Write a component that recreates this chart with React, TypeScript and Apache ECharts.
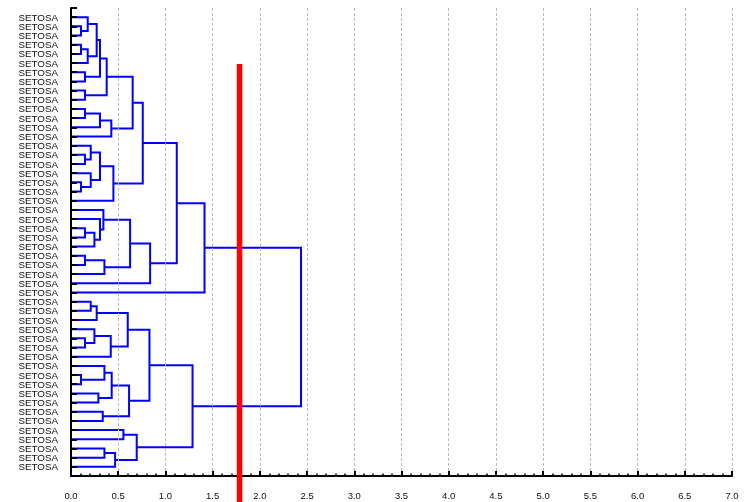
import React, { useEffect, useRef } from "react";
import * as echarts from "echarts";

// Leaf labels, top to bottom (leaf 1 .. leaf 50)
const leafLabels: string[] = [
  "SETOSA", "SETOSA", "SETOSA", "SETOSA", "SETOSA", "SETOSA", "SETOSA", "SETOSA", "SETOSA", "SETOSA",
  "SETOSA", "SETOSA", "SETOSA", "SETOSA", "SETOSA", "SETOSA", "SETOSA", "SETOSA", "SETOSA", "SETOSA",
  "SETOSA", "SETOSA", "SETOSA", "SETOSA", "SETOSA", "SETOSA", "SETOSA", "SETOSA", "SETOSA", "SETOSA",
  "SETOSA", "SETOSA", "SETOSA", "SETOSA", "SETOSA", "SETOSA", "SETOSA", "SETOSA", "SETOSA", "SETOSA",
  "SETOSA", "SETOSA", "SETOSA", "SETOSA", "SETOSA", "SETOSA", "SETOSA", "SETOSA", "SETOSA", "SETOSA",
];

// Merges: [node id, left child, right child, linkage distance]
// children are leaf numbers (1-based) or earlier node ids
const merges: [string, number | string, number | string, number][] = [
  ["a1", 2, 3, 0.106],
  ["a2", 1, "a1", 0.177],
  ["a3", 4, 5, 0.106],
  ["a4", "a3", 6, 0.177],
  ["a5", "a2", "a4", 0.272],
  ["a6", 7, 8, 0.148],
  ["a7", "a5", "a6", 0.307],
  ["a8", 9, 10, 0.148],
  ["a9", "a7", "a8", 0.378],
  ["a10", 11, 12, 0.148],
  ["a11", "a10", 13, 0.307],
  ["a12", "a11", 14, 0.427],
  ["a13", "a9", "a12", 0.653],
  ["b1", 16, 17, 0.148],
  ["b2", 15, "b1", 0.209],
  ["b3", 19, 20, 0.106],
  ["b4", 18, "b3", 0.209],
  ["b5", "b2", "b4", 0.307],
  ["b6", "b5", 21, 0.449],
  ["c1", "a13", "b6", 0.76],
  ["d1", 24, 25, 0.148],
  ["d2", "d1", 26, 0.248],
  ["d3", 23, "d2", 0.307],
  ["d4", 22, "d3", 0.343],
  ["d5", 27, 28, 0.148],
  ["d6", "d5", 29, 0.354],
  ["d7", "d4", "d6", 0.626],
  ["d8", "d7", 30, 0.838],
  ["e1", "c1", "d8", 1.12],
  ["e2", "e1", 31, 1.414],
  ["f1", 32, 33, 0.209],
  ["f2", "f1", 34, 0.272],
  ["f3", 36, 37, 0.148],
  ["f4", 35, "f3", 0.248],
  ["f5", "f4", 38, 0.421],
  ["f6", "f2", "f5", 0.601],
  ["g1", 40, 41, 0.106],
  ["g2", 39, "g1", 0.354],
  ["g3", 42, 43, 0.29],
  ["g4", "g2", "g3", 0.431],
  ["g5", 44, 45, 0.336],
  ["g6", "g4", "g5", 0.615],
  ["h1", "f6", "g6", 0.831],
  ["i1", 46, 47, 0.555],
  ["i2", 48, 49, 0.354],
  ["i3", "i2", 50, 0.467],
  ["i4", "i1", "i3", 0.696],
  ["j1", "h1", "i4", 1.287],
  ["root", "e2", "j1", 2.436],
];

// Cut line
const cutDistance = 1.785;
const cutTopPosition = 6.1;

// X axis ticks
const xMin = 0;
const xMax = 7;
const xInterval = 0.5;

function buildSegments() {
  const pos: Record<string, [number, number]> = {};
  const get = (c: number | string): [number, number] =>
    typeof c === "number" ? [0, c] : pos[c];
  const segs: { coords: number[][] }[] = [];
  for (const [id, l, r, h] of merges) {
    const a = get(l);
    const b = get(r);
    segs.push({ coords: [a, [h, a[1]], [h, b[1]], b] });
    pos[id] = [h, (a[1] + b[1]) / 2];
  }
  return segs;
}

export default function App() {
  const ref = useRef<HTMLDivElement>(null);
  useEffect(() => {
    const chart = echarts.init(ref.current!, null, { renderer: "svg" });
    const font = "'Liberation Sans', Arial, sans-serif";
    chart.setOption({
      animation: false,
      grid: { left: 71, top: 8, right: 15, bottom: 26, containLabel: false },
      xAxis: {
        type: "value",
        position: "bottom",
        min: xMin,
        max: xMax,
        interval: xInterval,
        z: 5,
        axisLine: { show: true, onZero: false, lineStyle: { color: "#000", width: 2 } },
        axisTick: { show: true, inside: true, length: 5, lineStyle: { color: "#000", width: 2 } },
        minorTick: { show: true, splitNumber: 5, length: 2.5, lineStyle: { color: "#000", width: 1.5 } },
        splitLine: { show: true, lineStyle: { color: "#bbbbbb", width: 1, type: [3, 2] } },
        axisLabel: {
          formatter: (v: number) => v.toFixed(1),
          margin: 14,
          fontSize: 9.5,
          color: "#111",
          fontFamily: font,
        },
      },
      yAxis: {
        type: "value",
        position: "left",
        inverse: true,
        min: 0,
        max: leafLabels.length + 1,
        interval: 1,
        z: 5,
        axisLine: { show: true, onZero: false, lineStyle: { color: "#000", width: 2 } },
        axisTick: { show: true, inside: true, length: 6, lineStyle: { color: "#000", width: 2 } },
        splitLine: { show: false },
        axisLabel: {
          formatter: (v: number) => (v >= 1 && v <= leafLabels.length ? leafLabels[v - 1] : ""),
          margin: 13,
          fontSize: 9.8,
          lineHeight: 9,
          color: "#111",
          fontFamily: font,
          hideOverlap: false,
        },
      },
      series: [
        {
          type: "lines",
          coordinateSystem: "cartesian2d",
          polyline: true,
          silent: true,
          z: 2,
          lineStyle: { color: "#0000ff", width: 2, opacity: 1 },
          data: buildSegments(),
        },
        {
          type: "custom",
          clip: false,
          silent: true,
          z: 10,
          data: [[cutDistance, cutTopPosition]],
          renderItem: (params: any, api: any) => {
            const p = api.coord([api.value(0), api.value(1)]);
            return {
              type: "rect",
              shape: { x: p[0] - 2.75, y: p[1], width: 5.5, height: api.getHeight() - p[1] },
              style: { fill: "#ff0000" },
            };
          },
        },
      ],
    });
    return () => chart.dispose();
  }, []);
  return (
    <div
      ref={ref}
      style={{ position: "fixed", left: 0, top: 0, width: 747, height: 502 }}
    />
  );
}
